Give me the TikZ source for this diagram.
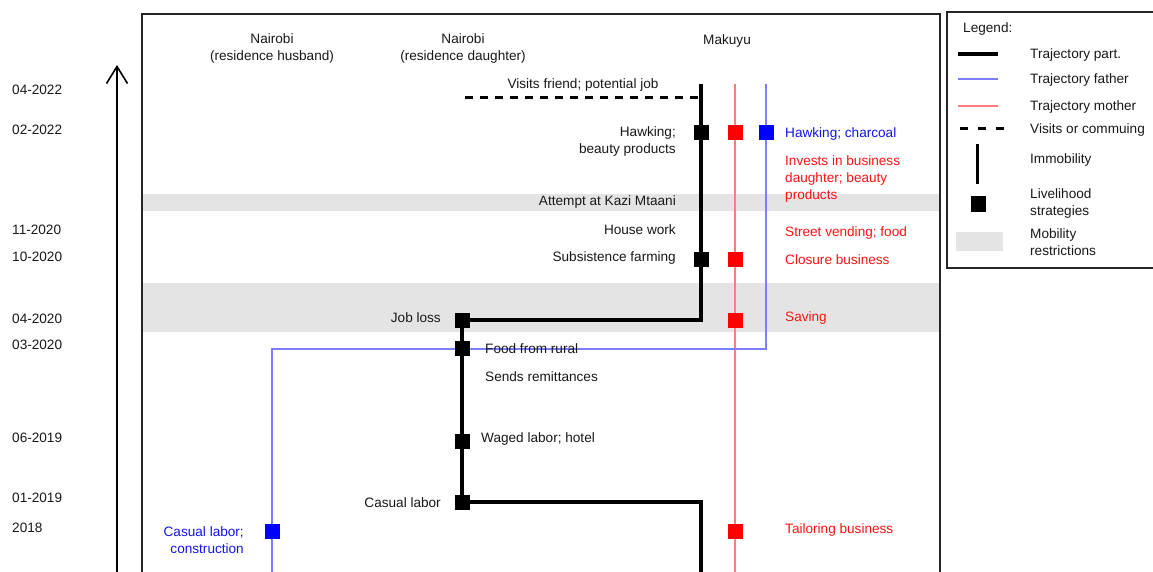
\documentclass[tikz,border=0pt]{standalone}
\usepackage{fontspec}
\setmainfont{Liberation Sans}
\usetikzlibrary{arrows.meta}
\definecolor{motherline}{RGB}{255,125,125}
\definecolor{fatherline}{RGB}{125,125,255}
\definecolor{txtred}{RGB}{250,20,20}
\definecolor{txtblue}{RGB}{20,20,240}
\definecolor{bandgray}{RGB}{228,228,228}
\begin{document}
\begin{tikzpicture}[x=1pt,y=-1pt,
  every node/.style={font=\fontsize{13.6}{16.8}\selectfont, inner sep=0pt, text=black!90},
  lab/.style={yshift=-0.8pt},
  redtxt/.style={lab, text=txtred},
  bluetxt/.style={lab, text=txtblue},
  band/.style={fill=bandgray},
  traj/.style={line width=3.2pt, black},
  fathertraj/.style={line width=1.1pt, draw=fatherline},
  mothertraj/.style={line width=1.2pt, draw=motherline},
  visit/.style={line width=3pt, dash pattern=on 8pt off 7pt},
  sqk/.style={fill=black, minimum size=15pt},
  sqr/.style={fill=red, minimum size=15pt},
  sqb/.style={fill=blue, minimum size=15pt},
  frame/.style={line width=1.8pt, black!85},
]
\useasboundingbox (0,0) rectangle (1153,572);
\clip (0,0) rectangle (1153,572);
\fill[white] (0,0) rectangle (1153,572);

% time axis
\coordinate (axbot) at (117,590);
\coordinate (axtop) at (117,65);
\draw[line width=1.6pt, -{Straight Barb[length=17pt,width=21pt,line width=1.6pt]}] (axbot) -- (axtop);

% dates
\node[lab, anchor=west] (d1) at (12,89)  {04-2022};
\node[lab, anchor=west] (d2) at (12,129) {02-2022};
\node[lab, anchor=west] (d3) at (12,229) {11-2020};
\node[lab, anchor=west] (d4) at (12,256) {10-2020};
\node[lab, anchor=west] (d5) at (12,318) {04-2020};
\node[lab, anchor=west] (d6) at (12,344) {03-2020};
\node[lab, anchor=west] (d7) at (12,437) {06-2019};
\node[lab, anchor=west] (d8) at (12,497) {01-2019};
\node[lab, anchor=west] (d9) at (12,527) {2018};

% mobility restriction bands
\fill[band] (143,194) rectangle (939,211);
\fill[band] (143,283) rectangle (939,332);

% main frame
\draw[frame] (142,600) -- (142,14) -- (940,14) -- (940,600);

% column headings
\node[lab, align=center] (hhus) at (272,48) {Nairobi\\(residence husband)};
\node[lab, align=center] (hdau) at (463,48) {Nairobi\\(residence daughter)};
\node[lab] (hmak) at (727,40) {Makuyu};

% anchor points of the trajectories
\coordinate (ptop) at (701,84);
\coordinate (pbot) at (701,600);
\coordinate (p1) at (701,133);
\coordinate (p2) at (701,259);
\coordinate (p3) at (462,320);
\coordinate (p4) at (462,348);
\coordinate (p5) at (462,441);
\coordinate (p6) at (462,502);
\coordinate (mtop) at (735,84);
\coordinate (mbot) at (735,600);
\coordinate (m1) at (735,133);
\coordinate (m2) at (735,259);
\coordinate (m3) at (735,320);
\coordinate (m4) at (735,531);
\coordinate (ftop) at (766,84);
\coordinate (fturn) at (766,349);
\coordinate (fbot) at (272,600);
\coordinate (f1) at (766,133);
\coordinate (f2) at (272,531);
\coordinate (vstart) at (465,98);
\coordinate (vend) at (701,98);

% father and mother trajectories
\draw[mothertraj] (mtop) -- (mbot);
\draw[fathertraj] (ftop) -- (fturn) -| (fbot);

% participant trajectory
\draw[traj] (ptop) -- (p1) -- (p2) |- (p3) -- (p4) -- (p5) -- (p6) -| (pbot);
\draw[visit] (vstart) -- (vend);

% livelihood strategies
\node[sqk] (s1) at (p1) {};
\node[sqk] (s2) at (p2) {};
\node[sqk] (s3) at (p3) {};
\node[sqk] (s4) at (p4) {};
\node[sqk] (s5) at (p5) {};
\node[sqk] (s6) at (p6) {};
\node[sqr] (r1) at (m1) {};
\node[sqr] (r2) at (m2) {};
\node[sqr] (r3) at (m3) {};
\node[sqr] (r4) at (m4) {};
\node[sqb] (b1) at (f1) {};
\node[sqb] (b2) at (f2) {};

% participant labels
\node[lab] (lvis) at (583,84) {Visits friend; potential job};
\node[lab, anchor=east, align=right] (lhawk) at (676,141) {Hawking;\\beauty products};
\node[lab, anchor=east] (lkazi) at (676,201) {Attempt at Kazi Mtaani};
\node[lab, anchor=east] (lhouse) at (676,229) {House work};
\node[lab, anchor=east] (lsubs) at (676,257) {Subsistence farming};
\node[lab, anchor=east] (ljob) at (441,317) {Job loss};
\node[lab, anchor=west] (lfood) at (485,348) {Food from rural};
\node[lab, anchor=west] (lremit) at (485,376) {Sends remittances};
\node[lab, anchor=west] (lwage) at (481,438) {Waged labor; hotel};
\node[lab, anchor=east] (lcas) at (441,502) {Casual labor};

% father labels
\node[bluetxt, anchor=west] (fl1) at (785,133) {Hawking; charcoal};
\node[bluetxt, anchor=east, align=right] (fl2) at (244,539) {Casual labor;\\construction};

% mother labels
\node[redtxt, anchor=west, align=left] (ml1) at (785,178) {Invests in business\\daughter; beauty\\products};
\node[redtxt, anchor=west] (ml2) at (785,232) {Street vending; food};
\node[redtxt, anchor=west] (ml3) at (785,259) {Closure business};
\node[redtxt, anchor=west] (ml4) at (785,317) {Saving};
\node[redtxt, anchor=west] (ml5) at (785,529) {Tailoring business};

% legend
\draw[line width=1.3pt, black!85] (947,12) rectangle (1170,268);
\node[lab, anchor=west] (lg) at (963,28) {Legend:};
\coordinate (k1a) at (958,54);  \coordinate (k1b) at (998,54);
\coordinate (k2a) at (958,79);  \coordinate (k2b) at (998,79);
\coordinate (k3a) at (958,106); \coordinate (k3b) at (998,106);
\coordinate (k4a) at (960,129); \coordinate (k4b) at (1004,129);
\coordinate (k5a) at (977,144); \coordinate (k5b) at (977,184);
\draw[traj] (k1a) -- (k1b);
\draw[fathertraj] (k2a) -- (k2b);
\draw[mothertraj] (k3a) -- (k3b);
\draw[line width=3pt, dash pattern=on 8pt off 10pt] (k4a) -- (k4b);
\draw[line width=3pt] (k5a) -- (k5b);
\node[sqk] (k6) at (978,204) {};
\fill[band] (956,232) rectangle (1003,251);
\node[lab, anchor=west] (t1) at (1030,54) {Trajectory part.};
\node[lab, anchor=west] (t2) at (1030,79) {Trajectory father};
\node[lab, anchor=west] (t3) at (1030,106) {Trajectory mother};
\node[lab, anchor=west] (t4) at (1030,129) {Visits or commuing};
\node[lab, anchor=west] (t5) at (1030,159) {Immobility};
\node[lab, anchor=west, align=left] (t6) at (1030,203) {Livelihood\\strategies};
\node[lab, anchor=west, align=left] (t7) at (1030,241) {Mobility\\restrictions};
\end{tikzpicture}
\end{document}
